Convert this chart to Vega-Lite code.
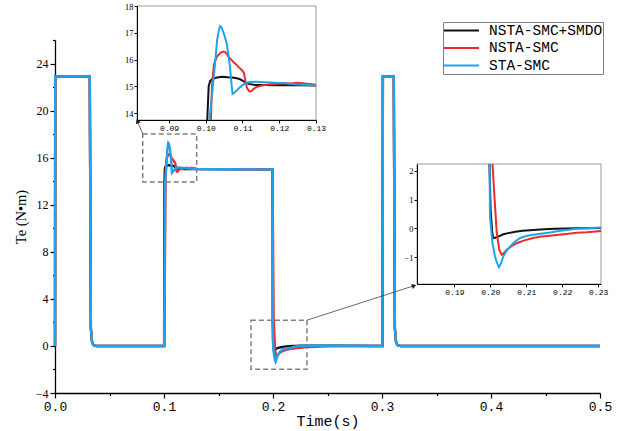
{
"$schema":"https://vega.github.io/schema/vega-lite/v6.json",
"width":621,"height":431,"autosize":{"type":"none"},"padding":0,"background":"white",
"config":{"view":{"stroke":null},"axis":{"grid":false,"domainColor":"#000","tickColor":"#000","labelColor":"#000","titleColor":"#000","titleFontWeight":"normal","labelFlush":false,"labelOverlap":false}},
"datasets":{
"main":[
{"s":"NSTA-SMC+SMDO","t":0,"v":0},{"s":"NSTA-SMC+SMDO","t":0.0002,"v":22.9},{"s":"NSTA-SMC+SMDO","t":0.0319,"v":22.9},{"s":"NSTA-SMC+SMDO","t":0.0329,"v":1.5},{"s":"NSTA-SMC+SMDO","t":0.0339,"v":0.4},{"s":"NSTA-SMC+SMDO","t":0.0351,"v":0.08},{"s":"NSTA-SMC+SMDO","t":0.038,"v":0},{"s":"NSTA-SMC+SMDO","t":0.1001,"v":0},
{"s":"NSTA-SMC+SMDO","t":0.10042,"v":13.74},{"s":"NSTA-SMC+SMDO","t":0.1008,"v":15.0},{"s":"NSTA-SMC+SMDO","t":0.1012,"v":15.2},{"s":"NSTA-SMC+SMDO","t":0.1018,"v":15.27},{"s":"NSTA-SMC+SMDO","t":0.103,"v":15.33},{"s":"NSTA-SMC+SMDO","t":0.1045,"v":15.36},{"s":"NSTA-SMC+SMDO","t":0.106,"v":15.34},{"s":"NSTA-SMC+SMDO","t":0.1072,"v":15.33},{"s":"NSTA-SMC+SMDO","t":0.1084,"v":15.3},{"s":"NSTA-SMC+SMDO","t":0.1092,"v":15.27},{"s":"NSTA-SMC+SMDO","t":0.1099,"v":15.22},{"s":"NSTA-SMC+SMDO","t":0.111,"v":15.13},{"s":"NSTA-SMC+SMDO","t":0.112,"v":15.08},{"s":"NSTA-SMC+SMDO","t":0.1135,"v":15.05},{"s":"NSTA-SMC+SMDO","t":0.116,"v":15.05},{"s":"NSTA-SMC+SMDO","t":0.119,"v":15.04},{"s":"NSTA-SMC+SMDO","t":0.122,"v":15.05},{"s":"NSTA-SMC+SMDO","t":0.125,"v":15.04},{"s":"NSTA-SMC+SMDO","t":0.13,"v":15.03},
{"s":"NSTA-SMC+SMDO","t":0.16,"v":15.02},{"s":"NSTA-SMC+SMDO","t":0.1996,"v":15.0},
{"s":"NSTA-SMC+SMDO","t":0.19975,"v":2.23},{"s":"NSTA-SMC+SMDO","t":0.2001,"v":0.6},{"s":"NSTA-SMC+SMDO","t":0.2005,"v":-0.1},{"s":"NSTA-SMC+SMDO","t":0.2008,"v":-0.33},{"s":"NSTA-SMC+SMDO","t":0.2013,"v":-0.32},{"s":"NSTA-SMC+SMDO","t":0.2019,"v":-0.3},{"s":"NSTA-SMC+SMDO","t":0.2028,"v":-0.25},{"s":"NSTA-SMC+SMDO","t":0.2036,"v":-0.2},{"s":"NSTA-SMC+SMDO","t":0.205,"v":-0.16},{"s":"NSTA-SMC+SMDO","t":0.207,"v":-0.11},{"s":"NSTA-SMC+SMDO","t":0.209,"v":-0.08},{"s":"NSTA-SMC+SMDO","t":0.212,"v":-0.05},{"s":"NSTA-SMC+SMDO","t":0.215,"v":-0.03},{"s":"NSTA-SMC+SMDO","t":0.218,"v":-0.01},{"s":"NSTA-SMC+SMDO","t":0.221,"v":0},{"s":"NSTA-SMC+SMDO","t":0.224,"v":0.01},{"s":"NSTA-SMC+SMDO","t":0.227,"v":0.01},{"s":"NSTA-SMC+SMDO","t":0.2308,"v":0.02},
{"s":"NSTA-SMC+SMDO","t":0.26,"v":0.01},{"s":"NSTA-SMC+SMDO","t":0.3004,"v":0},{"s":"NSTA-SMC+SMDO","t":0.3008,"v":22.9},{"s":"NSTA-SMC+SMDO","t":0.3108,"v":22.9},{"s":"NSTA-SMC+SMDO","t":0.3118,"v":1.5},{"s":"NSTA-SMC+SMDO","t":0.3128,"v":0.4},{"s":"NSTA-SMC+SMDO","t":0.314,"v":0.08},{"s":"NSTA-SMC+SMDO","t":0.317,"v":0},{"s":"NSTA-SMC+SMDO","t":0.5,"v":0},

{"s":"NSTA-SMC","t":0,"v":0},{"s":"NSTA-SMC","t":0.0002,"v":22.9},{"s":"NSTA-SMC","t":0.0319,"v":22.9},{"s":"NSTA-SMC","t":0.0329,"v":1.5},{"s":"NSTA-SMC","t":0.0339,"v":0.4},{"s":"NSTA-SMC","t":0.0351,"v":0.08},{"s":"NSTA-SMC","t":0.038,"v":0},{"s":"NSTA-SMC","t":0.1003,"v":0},
{"s":"NSTA-SMC","t":0.1014,"v":13.74},{"s":"NSTA-SMC","t":0.1017,"v":15.0},{"s":"NSTA-SMC","t":0.1022,"v":15.8},{"s":"NSTA-SMC","t":0.103,"v":16.1},{"s":"NSTA-SMC","t":0.104,"v":16.25},{"s":"NSTA-SMC","t":0.1048,"v":16.3},{"s":"NSTA-SMC","t":0.1053,"v":16.28},{"s":"NSTA-SMC","t":0.106,"v":16.15},{"s":"NSTA-SMC","t":0.1066,"v":16.04},{"s":"NSTA-SMC","t":0.1075,"v":15.92},{"s":"NSTA-SMC","t":0.1084,"v":15.8},{"s":"NSTA-SMC","t":0.1093,"v":15.67},{"s":"NSTA-SMC","t":0.11,"v":15.58},{"s":"NSTA-SMC","t":0.1104,"v":15.5},{"s":"NSTA-SMC","t":0.1108,"v":15.2},{"s":"NSTA-SMC","t":0.1112,"v":14.95},{"s":"NSTA-SMC","t":0.1117,"v":14.83},{"s":"NSTA-SMC","t":0.1121,"v":14.8},{"s":"NSTA-SMC","t":0.1127,"v":14.85},{"s":"NSTA-SMC","t":0.1133,"v":14.93},{"s":"NSTA-SMC","t":0.114,"v":14.98},{"s":"NSTA-SMC","t":0.115,"v":15.02},{"s":"NSTA-SMC","t":0.117,"v":15.07},{"s":"NSTA-SMC","t":0.119,"v":15.1},{"s":"NSTA-SMC","t":0.121,"v":15.12},{"s":"NSTA-SMC","t":0.123,"v":15.1},{"s":"NSTA-SMC","t":0.125,"v":15.13},{"s":"NSTA-SMC","t":0.127,"v":15.1},{"s":"NSTA-SMC","t":0.129,"v":15.08},{"s":"NSTA-SMC","t":0.13,"v":15.05},
{"s":"NSTA-SMC","t":0.16,"v":15.03},{"s":"NSTA-SMC","t":0.1996,"v":15.0},{"s":"NSTA-SMC","t":0.2001,"v":8.0},
{"s":"NSTA-SMC","t":0.2006,"v":2.23},{"s":"NSTA-SMC","t":0.2012,"v":1.0},{"s":"NSTA-SMC","t":0.2018,"v":-0.16},{"s":"NSTA-SMC","t":0.2025,"v":-0.74},{"s":"NSTA-SMC","t":0.2032,"v":-0.91},{"s":"NSTA-SMC","t":0.2038,"v":-0.85},{"s":"NSTA-SMC","t":0.2045,"v":-0.74},{"s":"NSTA-SMC","t":0.2058,"v":-0.62},{"s":"NSTA-SMC","t":0.2073,"v":-0.51},{"s":"NSTA-SMC","t":0.2095,"v":-0.41},{"s":"NSTA-SMC","t":0.2119,"v":-0.33},{"s":"NSTA-SMC","t":0.2142,"v":-0.28},{"s":"NSTA-SMC","t":0.2166,"v":-0.25},{"s":"NSTA-SMC","t":0.219,"v":-0.22},{"s":"NSTA-SMC","t":0.2212,"v":-0.19},{"s":"NSTA-SMC","t":0.224,"v":-0.15},{"s":"NSTA-SMC","t":0.2268,"v":-0.13},{"s":"NSTA-SMC","t":0.2308,"v":-0.09},
{"s":"NSTA-SMC","t":0.25,"v":-0.03},{"s":"NSTA-SMC","t":0.28,"v":0},{"s":"NSTA-SMC","t":0.3004,"v":0},{"s":"NSTA-SMC","t":0.3008,"v":22.9},{"s":"NSTA-SMC","t":0.3108,"v":22.9},{"s":"NSTA-SMC","t":0.3118,"v":1.5},{"s":"NSTA-SMC","t":0.3128,"v":0.4},{"s":"NSTA-SMC","t":0.314,"v":0.08},{"s":"NSTA-SMC","t":0.317,"v":0},{"s":"NSTA-SMC","t":0.5,"v":0},

{"s":"STA-SMC","t":0,"v":0},{"s":"STA-SMC","t":0.0002,"v":22.9},{"s":"STA-SMC","t":0.0319,"v":22.9},{"s":"STA-SMC","t":0.0329,"v":1.5},{"s":"STA-SMC","t":0.0339,"v":0.4},{"s":"STA-SMC","t":0.0351,"v":0.08},{"s":"STA-SMC","t":0.038,"v":0},{"s":"STA-SMC","t":0.1002,"v":0},
{"s":"STA-SMC","t":0.101,"v":13.74},{"s":"STA-SMC","t":0.1018,"v":14.8},{"s":"STA-SMC","t":0.1025,"v":15.8},{"s":"STA-SMC","t":0.1031,"v":16.73},{"s":"STA-SMC","t":0.1036,"v":17.1},{"s":"STA-SMC","t":0.1039,"v":17.25},{"s":"STA-SMC","t":0.1043,"v":17.2},{"s":"STA-SMC","t":0.1047,"v":17.05},{"s":"STA-SMC","t":0.1052,"v":16.85},{"s":"STA-SMC","t":0.1057,"v":16.6},{"s":"STA-SMC","t":0.1062,"v":16.15},{"s":"STA-SMC","t":0.1066,"v":15.73},{"s":"STA-SMC","t":0.107,"v":15.1},{"s":"STA-SMC","t":0.1073,"v":14.71},{"s":"STA-SMC","t":0.1078,"v":14.76},{"s":"STA-SMC","t":0.1085,"v":14.85},{"s":"STA-SMC","t":0.1093,"v":14.96},{"s":"STA-SMC","t":0.1102,"v":15.06},{"s":"STA-SMC","t":0.1111,"v":15.13},{"s":"STA-SMC","t":0.112,"v":15.16},{"s":"STA-SMC","t":0.1137,"v":15.17},{"s":"STA-SMC","t":0.116,"v":15.15},{"s":"STA-SMC","t":0.119,"v":15.13},{"s":"STA-SMC","t":0.122,"v":15.1},{"s":"STA-SMC","t":0.125,"v":15.07},{"s":"STA-SMC","t":0.128,"v":15.05},{"s":"STA-SMC","t":0.13,"v":15.03},
{"s":"STA-SMC","t":0.16,"v":15.02},{"s":"STA-SMC","t":0.1996,"v":15.0},
{"s":"STA-SMC","t":0.1998,"v":2.23},{"s":"STA-SMC","t":0.1999,"v":0.42},{"s":"STA-SMC","t":0.2006,"v":-0.5},{"s":"STA-SMC","t":0.2013,"v":-0.97},{"s":"STA-SMC","t":0.2019,"v":-1.2},{"s":"STA-SMC","t":0.2024,"v":-1.34},{"s":"STA-SMC","t":0.203,"v":-1.2},{"s":"STA-SMC","t":0.2036,"v":-0.97},{"s":"STA-SMC","t":0.2045,"v":-0.78},{"s":"STA-SMC","t":0.2055,"v":-0.62},{"s":"STA-SMC","t":0.2068,"v":-0.46},{"s":"STA-SMC","t":0.2083,"v":-0.33},{"s":"STA-SMC","t":0.21,"v":-0.26},{"s":"STA-SMC","t":0.2119,"v":-0.22},{"s":"STA-SMC","t":0.214,"v":-0.18},{"s":"STA-SMC","t":0.2166,"v":-0.14},{"s":"STA-SMC","t":0.219,"v":-0.09},{"s":"STA-SMC","t":0.2212,"v":-0.05},{"s":"STA-SMC","t":0.2235,"v":-0.02},{"s":"STA-SMC","t":0.2258,"v":0},{"s":"STA-SMC","t":0.2282,"v":0.02},{"s":"STA-SMC","t":0.2308,"v":0.03},
{"s":"STA-SMC","t":0.25,"v":0.02},{"s":"STA-SMC","t":0.3004,"v":0},{"s":"STA-SMC","t":0.3008,"v":22.9},{"s":"STA-SMC","t":0.3108,"v":22.9},{"s":"STA-SMC","t":0.3118,"v":1.5},{"s":"STA-SMC","t":0.3128,"v":0.4},{"s":"STA-SMC","t":0.314,"v":0.08},{"s":"STA-SMC","t":0.317,"v":0},{"s":"STA-SMC","t":0.5,"v":0}
],
"boxes":[{"x1":0.0805,"x2":0.13,"y1":13.93,"y2":18.02},{"x1":0.1798,"x2":0.2312,"y1":-1.98,"y2":2.19}],
"links":[{"id":1,"x1":0.0805,"y1":18.02,"x2":0.0756,"y2":19.1},{"id":2,"x1":0.2312,"y1":2.19,"x2":0.3295,"y2":5.12}]
},
"resolve":{"scale":{"x":"independent","y":"independent"}},
"layer":[
 {"data":{"name":"main"},"mark":{"type":"line","strokeWidth":2.4},
  "encoding":{
   "x":{"field":"t","type":"quantitative","scale":{"domain":[0,0.5],"range":[55,600],"nice":false,"zero":false},
    "axis":{"orient":"bottom","offset":-38,"values":[0,0.05,0.1,0.15,0.2,0.25,0.3,0.35,0.4,0.45,0.5],"format":".1f",
     "labelExpr":"abs(datum.value*10 - round(datum.value*10)) < 0.01 ? datum.label : ''",
     "tickSize":{"condition":{"test":"abs(datum.value*10 - round(datum.value*10)) > 0.01","value":2.5},"value":5},
     "labelPadding":2,"labelFont":"Liberation Mono","labelFontSize":13,"domainWidth":1.3,"tickWidth":1.2,
     "title":"Time(s)","titleFont":"Liberation Mono","titleFontSize":15,"titlePadding":0}},
   "y":{"field":"v","type":"quantitative","scale":{"domain":[-4,26],"range":[393,40],"nice":false,"zero":false},
    "axis":{"orient":"left","offset":-55,"values":[-4,-2,0,2,4,6,8,10,12,14,16,18,20,22,24,26],"format":"d",
     "labelExpr":"datum.value % 4 == 0 ? datum.label : ''",
     "tickSize":{"condition":{"test":"datum.value % 4 != 0","value":2.5},"value":5},
     "labelPadding":2,"labelFont":"Liberation Serif","labelFontSize":12,"domainWidth":1.3,"tickWidth":1.2,
     "title":"Te (N•m)","titleFont":"Liberation Serif","titleFontSize":14.5,"titlePadding":7}},
   "color":{"field":"s","type":"nominal","scale":{"domain":["NSTA-SMC+SMDO","NSTA-SMC","STA-SMC"],"range":["#111111","#ee2a2a","#1ea4ef"]},
    "legend":{"orient":"none","legendX":443,"legendY":22,"title":null,"symbolType":"stroke","symbolSize":1225,"symbolStrokeWidth":2,"clipHeight":17,"rowPadding":0.5,"padding":0,"labelOffset":9,"labelFont":"Liberation Mono","labelFontSize":14.5,"labelLimit":300,"labelColor":"#000","strokeColor":"#808080","fillColor":"white"}}
  }},
 {"data":{"name":"boxes"},"mark":{"type":"rect","fillOpacity":0,"stroke":"#808080","strokeWidth":1.5,"strokeDash":[5,3]},
  "encoding":{"x":{"field":"x1","type":"quantitative","scale":{"domain":[0,0.5],"range":[55,600],"nice":false,"zero":false},"axis":null},"x2":{"field":"x2"},
   "y":{"field":"y1","type":"quantitative","scale":{"domain":[-4,26],"range":[393,40],"nice":false,"zero":false},"axis":null},"y2":{"field":"y2"}}},
 {"data":{"name":"links"},"mark":{"type":"rule","stroke":"#444444","strokeWidth":0.8},
  "encoding":{"x":{"field":"x1","type":"quantitative","scale":{"domain":[0,0.5],"range":[55,600],"nice":false,"zero":false},"axis":null},
   "y":{"field":"y1","type":"quantitative","scale":{"domain":[-4,26],"range":[393,40],"nice":false,"zero":false},"axis":null},"x2":{"field":"x2"},"y2":{"field":"y2"}}},
 {"data":{"name":"links"},"transform":[{"filter":"datum.id == 1"}],"mark":{"type":"point","shape":"triangle-right","filled":true,"color":"#222222","opacity":1,"size":28,"angle":247},
  "encoding":{"x":{"field":"x2","type":"quantitative","scale":{"domain":[0,0.5],"range":[55,600],"nice":false,"zero":false},"axis":null},
   "y":{"field":"y2","type":"quantitative","scale":{"domain":[-4,26],"range":[393,40],"nice":false,"zero":false},"axis":null}}},
 {"data":{"name":"links"},"transform":[{"filter":"datum.id == 2"}],"mark":{"type":"point","shape":"triangle-right","filled":true,"color":"#222222","opacity":1,"size":28,"angle":342},
  "encoding":{"x":{"field":"x2","type":"quantitative","scale":{"domain":[0,0.5],"range":[55,600],"nice":false,"zero":false},"axis":null},
   "y":{"field":"y2","type":"quantitative","scale":{"domain":[-4,26],"range":[393,40],"nice":false,"zero":false},"axis":null}}},
 {"data":{"values":[{"x1":0.0813,"x2":0.13,"y1":13.74,"y2":18}]},"mark":{"type":"rect","fill":"white","stroke":"#9a9a9a","strokeWidth":1},
  "encoding":{
   "x":{"field":"x1","type":"quantitative","scale":{"domain":[0.0813,0.13],"range":[137,316],"nice":false,"zero":false},
    "axis":{"orient":"bottom","offset":-311,"values":[0.09,0.1,0.11,0.12,0.13],"format":".2f","tickSize":3,"labelPadding":1,"labelFont":"Liberation Mono","labelFontSize":8,"title":null,"zindex":1}},
   "x2":{"field":"x2"},
   "y":{"field":"y1","type":"quantitative","scale":{"domain":[13.74,18],"range":[120,6],"nice":false,"zero":false},
    "axis":{"orient":"left","offset":-137,"values":[14,15,16,17,18],"format":"d","tickSize":3,"labelPadding":1,"labelFont":"Liberation Serif","labelFontSize":8.5,"title":null,"zindex":1}},
   "y2":{"field":"y2"}}},
 {"data":{"name":"main"},"transform":[{"filter":"datum.t >= 0.0812 && datum.t <= 0.1301 && datum.v >= 13.73 && datum.v <= 18.01"}],
  "mark":{"type":"line","strokeWidth":2},
  "encoding":{"x":{"field":"t","type":"quantitative","scale":{"domain":[0.0813,0.13],"range":[137,316],"nice":false,"zero":false},"axis":null},
   "y":{"field":"v","type":"quantitative","scale":{"domain":[13.74,18],"range":[120,6],"nice":false,"zero":false},"axis":null},
   "color":{"field":"s","type":"nominal","legend":null}}},
 {"data":{"values":[{"x1":0.1796,"x2":0.2308,"y1":-1.92,"y2":2.23}]},"mark":{"type":"rect","fill":"white","stroke":"#9a9a9a","strokeWidth":1},
  "encoding":{
   "x":{"field":"x1","type":"quantitative","scale":{"domain":[0.1796,0.2308],"range":[417,601],"nice":false,"zero":false},
    "axis":{"orient":"bottom","offset":-147,"values":[0.19,0.2,0.21,0.22,0.23],"format":".2f","tickSize":3,"labelPadding":1,"labelFont":"Liberation Mono","labelFontSize":8,"title":null,"zindex":1}},
   "x2":{"field":"x2"},
   "y":{"field":"y1","type":"quantitative","scale":{"domain":[-1.92,2.23],"range":[284,164],"nice":false,"zero":false},
    "axis":{"orient":"left","offset":-417,"values":[-1,0,1,2],"format":"d","tickSize":3,"labelPadding":1,"labelFont":"Liberation Serif","labelFontSize":8.5,"title":null,"zindex":1}},
   "y2":{"field":"y2"}}},
 {"data":{"name":"main"},"transform":[{"filter":"datum.t >= 0.1795 && datum.t <= 0.2309 && datum.v >= -1.93 && datum.v <= 2.24"}],
  "mark":{"type":"line","strokeWidth":2},
  "encoding":{"x":{"field":"t","type":"quantitative","scale":{"domain":[0.1796,0.2308],"range":[417,601],"nice":false,"zero":false},"axis":null},
   "y":{"field":"v","type":"quantitative","scale":{"domain":[-1.92,2.23],"range":[284,164],"nice":false,"zero":false},"axis":null},
   "color":{"field":"s","type":"nominal","legend":null}}}
]
}
